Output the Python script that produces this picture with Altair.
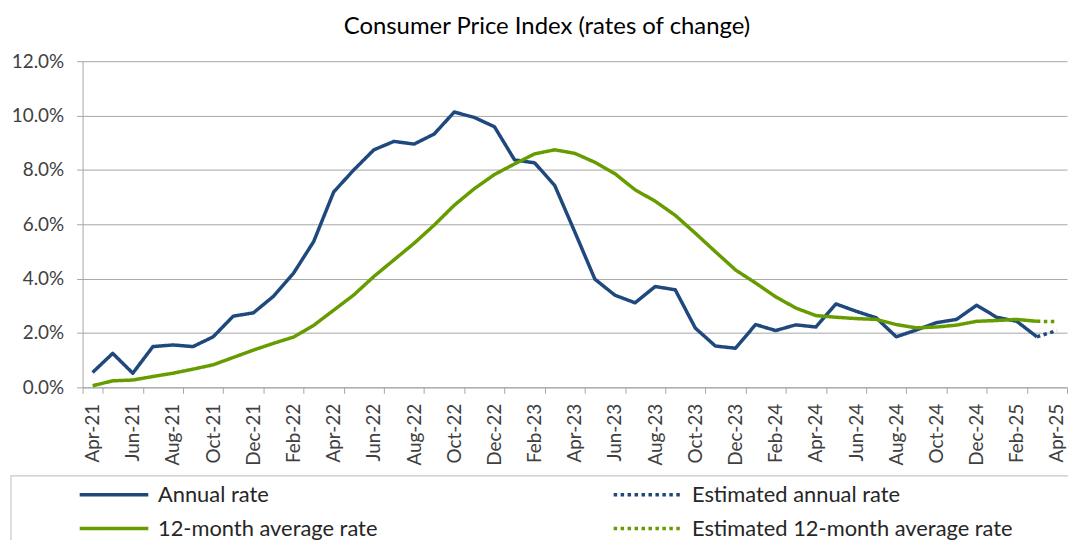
import altair as alt
import pandas as pd

months = [
    "Apr-21", "May-21", "Jun-21", "Jul-21", "Aug-21", "Sep-21", "Oct-21", "Nov-21", "Dec-21",
    "Jan-22", "Feb-22", "Mar-22", "Apr-22", "May-22", "Jun-22", "Jul-22", "Aug-22", "Sep-22",
    "Oct-22", "Nov-22", "Dec-22", "Jan-23", "Feb-23", "Mar-23", "Apr-23", "May-23", "Jun-23",
    "Jul-23", "Aug-23", "Sep-23", "Oct-23", "Nov-23", "Dec-23", "Jan-24", "Feb-24", "Mar-24",
    "Apr-24", "May-24", "Jun-24", "Jul-24", "Aug-24", "Sep-24", "Oct-24", "Nov-24", "Dec-24",
    "Jan-25", "Feb-25", "Mar-25", "Apr-25",
]

# Annual rate (%), Apr-21 .. Mar-25
annual_rate = [
    0.55, 1.25, 0.52, 1.50, 1.56, 1.50, 1.86, 2.62, 2.74,
    3.35, 4.20, 5.36, 7.19, 8.00, 8.74, 9.05, 8.95, 9.32, 10.13, 9.93, 9.59,
    8.37, 8.26, 7.43, 5.72, 3.98, 3.39, 3.11, 3.71, 3.59, 2.18, 1.52, 1.44,
    2.31, 2.09, 2.30, 2.22, 3.07, 2.80, 2.56, 1.86, 2.11, 2.38, 2.50, 3.02,
    2.58, 2.43, 1.86,
]
# Estimated annual rate (%), Mar-25 .. Apr-25
est_months = ["Mar-25", "Apr-25"]
annual_rate_est = [1.86, 2.09]

# 12-month average rate (%), Apr-21 .. Mar-25
avg_rate = [
    0.06, 0.24, 0.27, 0.40, 0.52, 0.67, 0.83, 1.10, 1.37,
    1.62, 1.85, 2.28, 2.84, 3.40, 4.08, 4.69, 5.30, 5.97, 6.70, 7.31, 7.83,
    8.22, 8.59, 8.74, 8.61, 8.28, 7.86, 7.27, 6.85, 6.33, 5.67, 4.99, 4.32,
    3.84, 3.33, 2.92, 2.64, 2.58, 2.53, 2.50, 2.31, 2.19, 2.22, 2.29, 2.43,
    2.46, 2.50, 2.43,
]
# Estimated 12-month average rate (%), Mar-25 .. Apr-25
avg_rate_est = [2.43, 2.42]

ANNUAL = "Annual rate"
ANNUAL_EST = "Estimated annual rate"
AVG = "12-month average rate"
AVG_EST = "Estimated 12-month average rate"

# legend fills column by column: col 1 = solid lines, col 2 = estimates
series_names = [ANNUAL, AVG, ANNUAL_EST, AVG_EST]
series_colors = ["#1F497D", "#669C00", "#1F497D", "#669C00"]
series_dashes = [[1, 0], [1, 0], [3.5, 3.5], [3.5, 3.5]]

rows = []
for m, v in zip(months[:-1], annual_rate):
    rows.append({"series": ANNUAL, "month": m, "value": v / 100})
for m, v in zip(est_months, annual_rate_est):
    rows.append({"series": ANNUAL_EST, "month": m, "value": v / 100})
for m, v in zip(months[:-1], avg_rate):
    rows.append({"series": AVG, "month": m, "value": v / 100})
for m, v in zip(est_months, avg_rate_est):
    rows.append({"series": AVG_EST, "month": m, "value": v / 100})
df = pd.DataFrame(rows)

FONT = "Lato"
GRID = "#a6a6a6"

x_enc = alt.X(
    "month:O",
    sort=months,
    bandPosition=0.5,
    scale=alt.Scale(type="band", paddingInner=0, paddingOuter=0),
    axis=alt.Axis(
        title=None,
        values=months[::2],
        labelAngle=270,
        tickBand="extent",
        grid=False,
        domainColor=GRID,
        tickColor=GRID,
        tickSize=6,
        labelPadding=10,
        labelFont=FONT,
        labelFontSize=19,
        labelColor="#404040",
    ),
)
y_enc = alt.Y(
    "value:Q",
    scale=alt.Scale(domain=[0, 0.12], nice=False),
    axis=alt.Axis(
        title=None,
        values=[0, 0.02, 0.04, 0.06, 0.08, 0.10, 0.12],
        format=".1%",
        grid=True,
        gridColor=GRID,
        domainColor=GRID,
        tickColor=GRID,
        tickSize=6,
        labelPadding=13,
        labelFont=FONT,
        labelFontSize=19,
        labelColor="#404040",
    ),
)
color_enc = alt.Color(
    "series:N",
    scale=alt.Scale(domain=series_names, range=series_colors),
    legend=alt.Legend(
        title=None,
        orient="none",
        legendX=-7,
        legendY=425,
        columns=2,
        columnPadding=230,
        rowPadding=12,
        padding=0,
        symbolType="M-5,0H5",
        symbolSize=190.44,
        symbolOffset=27.6,
        symbolStrokeWidth=3.5,
        labelOffset=33.2,
        labelFont=FONT,
        labelFontSize=22,
        labelColor="#262626",
        labelLimit=500,
    ),
)
dash_enc = alt.StrokeDash(
    "series:N",
    scale=alt.Scale(domain=series_names, range=series_dashes),
    legend=alt.Legend(title=None),
)

base = alt.Chart(df).mark_line(strokeWidth=3.5, strokeJoin="round").encode(
    x=x_enc, y=y_enc, color=color_enc, strokeDash=dash_enc
)
blue_lines = base.transform_filter(
    alt.FieldOneOfPredicate(field="series", oneOf=[ANNUAL, ANNUAL_EST])
)
green_lines = base.transform_filter(
    alt.FieldOneOfPredicate(field="series", oneOf=[AVG, AVG_EST])
)

legend_frame = alt.Chart(alt.Data(values=[{"frame": 1}])).mark_rect(
    fill="white", stroke="#c8c8c8", strokeWidth=1.2
).encode(
    x=alt.value(-72), x2=alt.value(996), y=alt.value(417), y2=alt.value(540)
)

chart = alt.layer(legend_frame, blue_lines, green_lines).properties(
    width=990,
    height=328,
    padding={"left": 75, "top": 52, "right": 1, "bottom": 152},
    autosize=alt.AutoSizeParams(type="none"),
    title=alt.TitleParams(
        text="Consumer Price Index (rates of change)",
        font=FONT,
        fontSize=24,
        fontWeight="normal",
        color="#000000",
        anchor="middle",
        dx=-28,
        offset=13,
    ),
    background="white",
).configure_view(stroke="transparent")

chart.save("out.html", embed_options={"renderer": "svg", "actions": False})
